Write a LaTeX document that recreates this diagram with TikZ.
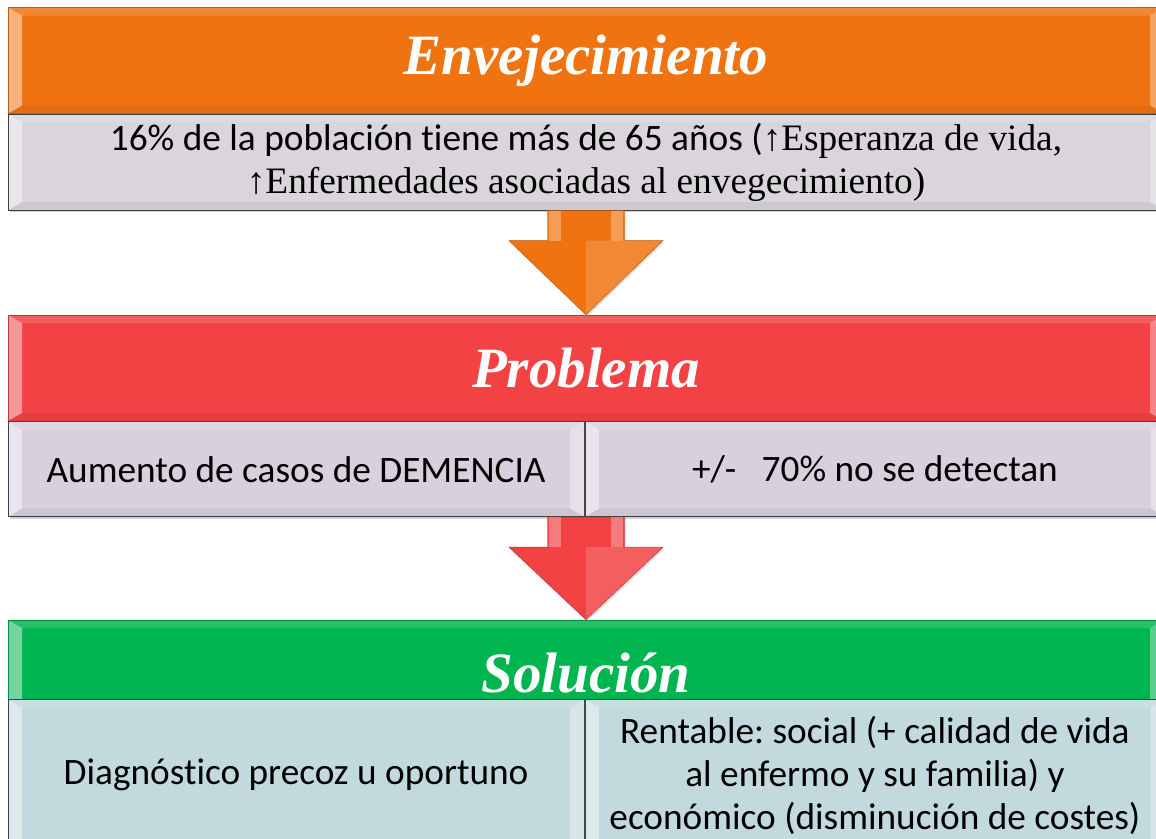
\documentclass[tikz,border=0pt]{standalone}
\usepackage{fontspec}
\setmainfont{Carlito}[Ligatures={NoCommon}]
\newfontfamily\headfont{Liberation Serif}
\newfontfamily\timesfont{Liberation Serif}
\usetikzlibrary{positioning, calc, shadows}

\definecolor{envorange}{HTML}{F07311}
\definecolor{probred}{HTML}{F24244}
\definecolor{solgreen}{HTML}{00B550}
\definecolor{envgrey}{HTML}{D9D5DB}
\definecolor{problav}{HTML}{D9D0DE}
\definecolor{solblue}{HTML}{C2DADE}

\tikzset{
  bevel/.style={path picture={
    \path (path picture bounding box.north west) coordinate (bnw)
          (path picture bounding box.north east) coordinate (bne)
          (path picture bounding box.south west) coordinate (bsw)
          (path picture bounding box.south east) coordinate (bse);
    \fill[white,opacity=.45] (bnw) -- (bsw) -- ([shift={(14pt,8pt)}]bsw) -- ([shift={(14pt,-8pt)}]bnw) -- cycle;
    \fill[white,opacity=.35] (bne) -- (bse) -- ([shift={(-14pt,8pt)}]bse) -- ([shift={(-14pt,-8pt)}]bne) -- cycle;
    \fill[white,opacity=.15] (bnw) -- (bne) -- ([shift={(-14pt,-8pt)}]bne) -- ([shift={(14pt,-8pt)}]bnw) -- cycle;
    \fill[black,opacity=.05] (bsw) -- (bse) -- ([shift={(-14pt,8pt)}]bse) -- ([shift={(14pt,8pt)}]bsw) -- cycle;
  }},
  head/.style={bevel, draw=#1!80!black, fill=#1, line width=.6pt,
    minimum width=1156pt, minimum height=106pt, inner sep=0pt, text=white,
    font=\headfont\bfseries\itshape\fontsize{57}{60}\selectfont,
    drop shadow={opacity=.3, shadow xshift=1.5pt, shadow yshift=-2pt}},
  cell/.style={bevel, draw=black!75, fill=#1, line width=.8pt, inner sep=0pt,
    align=center, font=\frenchspacing\fontsize{37.3}{43}\selectfont,
    drop shadow={opacity=.35, shadow xshift=1.5pt, shadow yshift=-2pt}},
  blockarrow/.style={fill=#1, draw=#1!75!black, line width=.4pt,
    drop shadow={opacity=.25, shadow xshift=1pt, shadow yshift=-2pt}},
  shine/.style={fill=white, opacity=#1}
}

\begin{document}
\begin{tikzpicture}[x=1pt, y=-1pt]
    \useasboundingbox (0,0) rectangle (1156,838);
    \clip (0,0) rectangle (1156,838);
    % envejecimiento
    \node[head=envorange] (envhead) at (586, 60.5) {Envejecimiento};
    \node[cell=envgrey, minimum width=1156pt, minimum height=96pt, below=0pt of envhead] (envbox)
        {16\% de la población tiene más de 65 años ({\timesfont ↑Esperanza de vida,}\\
         {\timesfont ↑Enfermedades asociadas al envegecimiento)}};
    % problema
    \node[head=probred] (probhead) at (586, 368) {Problema};
    \node[cell=problav, minimum width=576pt, minimum height=95pt, anchor=north west] (casos)
        at (probhead.south west) {Aumento de casos de DEMENCIA};
    \node[cell=problav, minimum width=580pt, minimum height=95pt, anchor=north west] (deteccion)
        at (casos.north east) {+/-\ \ \ 70\% no se detectan};
    % solucion
    \node[head=solgreen] (solhead) at (586, 673) {Solución};
    \node[cell=solblue, minimum width=576pt, minimum height=151pt, anchor=north west] (diagnostico)
        at ([yshift=27pt]solhead.south west) {Diagnóstico precoz u oportuno};
    \node[cell=solblue, minimum width=580pt, minimum height=151pt, anchor=north west] (rentable)
        at (diagnostico.north east) {Rentable: social (+ calidad de vida\\ al enfermo y su familia) y\\ económico (disminución de costes)};
    % flechas
    \coordinate (arrowtop) at (envbox.south);
    \path[blockarrow=envorange] ([xshift=-38.5pt]arrowtop) -- ([shift={(-38.5pt,-30pt)}]arrowtop)
        -- ([shift={(-77pt,-30pt)}]arrowtop) -- (probhead.north)
        -- ([shift={(77pt,-30pt)}]arrowtop) -- ([shift={(38.5pt,-30pt)}]arrowtop)
        -- ([xshift=38.5pt]arrowtop) -- cycle;
    \fill[shine=.3] ([xshift=-37pt]arrowtop) rectangle ([shift={(-25pt,-30pt)}]arrowtop);
    \fill[shine=.3] ([xshift=25pt]arrowtop) rectangle ([shift={(37pt,-30pt)}]arrowtop);
    \fill[shine=.15] ([shift={(0pt,-30pt)}]arrowtop) -- ([shift={(76pt,-30pt)}]arrowtop) -- (probhead.north) -- cycle;
    \coordinate (arrowtopb) at (solhead.north |- casos.south);
    \path[blockarrow=probred] ([xshift=-38.5pt]arrowtopb) -- ([shift={(-38.5pt,-30pt)}]arrowtopb)
        -- ([shift={(-77pt,-30pt)}]arrowtopb) -- (solhead.north)
        -- ([shift={(77pt,-30pt)}]arrowtopb) -- ([shift={(38.5pt,-30pt)}]arrowtopb)
        -- ([xshift=38.5pt]arrowtopb) -- cycle;
    \fill[shine=.3] ([xshift=-37pt]arrowtopb) rectangle ([shift={(-25pt,-30pt)}]arrowtopb);
    \fill[shine=.3] ([xshift=25pt]arrowtopb) rectangle ([shift={(37pt,-30pt)}]arrowtopb);
    \fill[shine=.15] ([shift={(0pt,-30pt)}]arrowtopb) -- ([shift={(76pt,-30pt)}]arrowtopb) -- (solhead.north) -- cycle;
\end{tikzpicture}
\end{document}
